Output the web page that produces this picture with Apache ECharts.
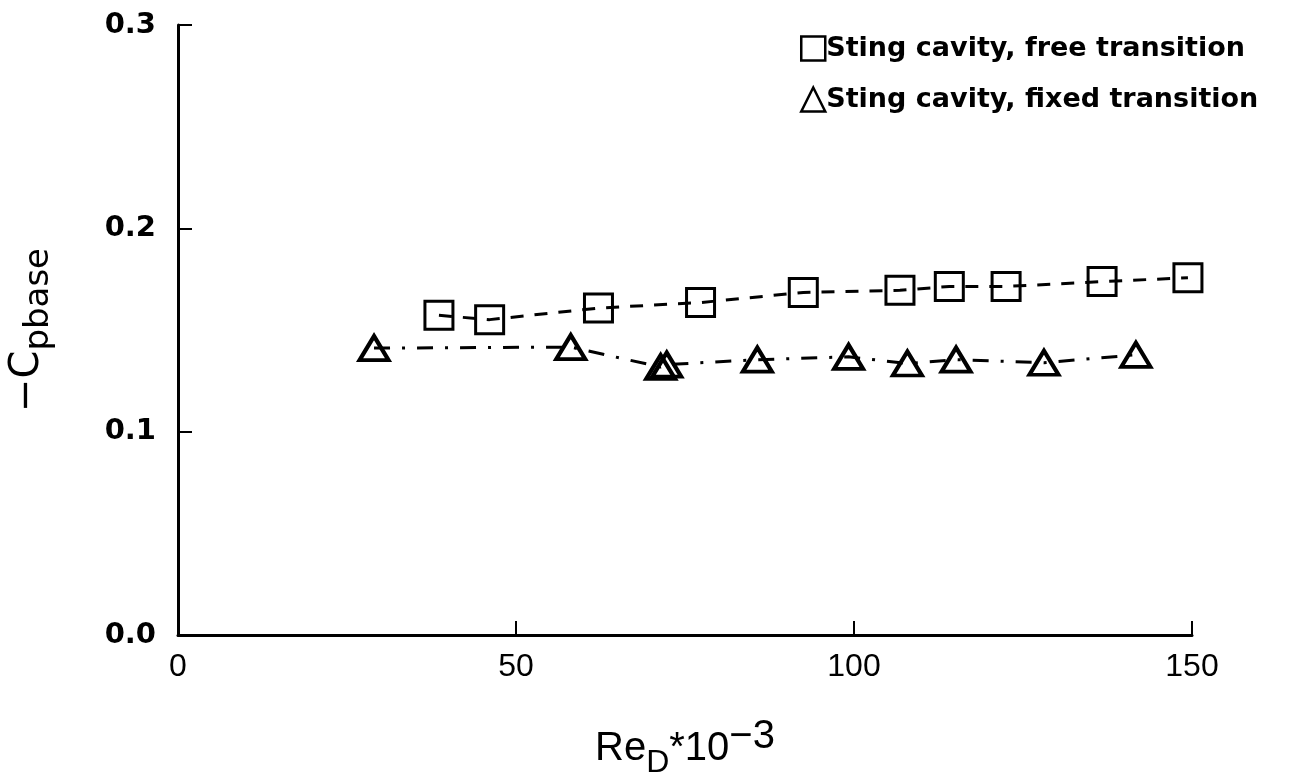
<!DOCTYPE html>
<html>
<head>
<meta charset="utf-8">
<script src="https://cdn.jsdelivr.net/npm/echarts@6/dist/echarts.min.js"></script>
<style>
html,body{margin:0;padding:0;background:#fff;overflow:hidden;width:100%;height:100%;}
#chart{width:100vw;height:100vh;}
</style>
</head>
<body>
<div id="chart"></div>
<script>
// Data
const freeRe = [38.6, 46.1, 62.2, 77.3, 92.5, 106.8, 114.1, 122.5, 136.7, 149.4];
const freeCp = [0.1572, 0.1551, 0.1608, 0.1635, 0.1685, 0.1695, 0.1714, 0.1714, 0.1738, 0.1757];
const fixedRe = [29.0, 58.1, 71.4, 72.3, 85.7, 99.2, 107.9, 115.1, 128.1, 141.7];
const fixedCp = [0.1411, 0.1416, 0.1318, 0.1330, 0.1354, 0.1368, 0.1335, 0.1354, 0.1339, 0.1378];
const xTicks = [0, 50, 100, 150];
const yTicks = [0.0, 0.1, 0.2, 0.3];
const seriesNames = ['Sting cavity, free transition', 'Sting cavity, fixed transition'];

const pair = (xs, ys) => xs.map((x, i) => [x, ys[i]]);
const chart = echarts.init(document.getElementById('chart'));
const pct = (v, total) => (v / total * 100).toFixed(3) + '%';
chart.setOption({
  backgroundColor: '#fff',
  animation: false,
  grid: {left: pct(177, 1297), right: pct(105, 1297), top: pct(25, 784), bottom: pct(134, 784), containLabel: false},
  legend: {
    left: pct(795, 1297), top: pct(30, 784), orient: 'vertical', itemGap: 24,
    itemWidth: 24, itemHeight: 24,
    textStyle: {fontFamily: 'DejaVu Sans', fontSize: 27, color: '#000', fontWeight: 'bold', padding: [0, 0, 0, -4]},
    data: [
      {name: seriesNames[0], icon: 'rect', itemStyle: {color: 'transparent', borderColor: '#000', borderWidth: 2.5}},
      {name: seriesNames[1], icon: 'triangle', itemStyle: {color: 'transparent', borderColor: '#000', borderWidth: 2.5}}
    ]
  },
  xAxis: {
    type: 'value', min: xTicks[0], max: xTicks[xTicks.length - 1], interval: 50,
    name: 'Re{sub|D}*10{sup|−3}', nameLocation: 'middle', nameGap: 82,
    nameTextStyle: {
      fontFamily: 'Liberation Sans', fontSize: 40, color: '#000',
      rich: {
        sub: {fontFamily: 'Liberation Sans', fontSize: 32, padding: [28, 0, 0, 0], color: '#000'},
        sup: {fontFamily: 'Liberation Sans', fontSize: 40, padding: [0, 0, 24, 0], color: '#000'}
      }
    },
    axisLine: {show: true, onZero: false, lineStyle: {color: '#000', width: 3}},
    axisTick: {show: true, inside: true, length: 14, lineStyle: {color: '#000', width: 2}},
    axisLabel: {margin: 16, fontFamily: 'Liberation Sans', fontSize: 32, color: '#000',
      formatter: v => String(v)},
    splitLine: {show: false}
  },
  yAxis: {
    type: 'value', min: yTicks[0], max: yTicks[yTicks.length - 1], interval: 0.1,
    name: '−C{sub|pbase}', nameLocation: 'middle', nameGap: 122, nameRotate: 90,
    nameTextStyle: {
      fontFamily: 'DejaVu Sans', fontSize: 40, color: '#000',
      rich: {
        sub: {fontFamily: 'DejaVu Sans', fontSize: 34, padding: [22, 0, 0, 0], color: '#000'}
      }
    },
    axisLine: {show: true, onZero: false, lineStyle: {color: '#000', width: 3}},
    axisTick: {show: true, inside: true, length: 14, lineStyle: {color: '#000', width: 2}},
    axisLabel: {margin: 22, fontFamily: 'DejaVu Sans', fontSize: 29, color: '#000', fontWeight: 'bold',
      formatter: v => v.toFixed(1)},
    splitLine: {show: false}
  },
  series: [
    {
      name: seriesNames[0], type: 'line', data: pair(freeRe, freeCp),
      symbol: 'rect', symbolSize: 28,
      itemStyle: {color: 'transparent', borderColor: '#000', borderWidth: 3},
      lineStyle: {color: '#000', width: 3, type: [13, 11]}
    },
    {
      name: seriesNames[1], type: 'line', data: pair(fixedRe, fixedCp),
      symbol: 'triangle', symbolSize: [29, 24],
      itemStyle: {color: 'transparent', borderColor: '#000', borderWidth: 4},
      lineStyle: {color: '#000', width: 3, type: [16, 12, 3, 12]}
    }
  ]
});
</script>
</body>
</html>
